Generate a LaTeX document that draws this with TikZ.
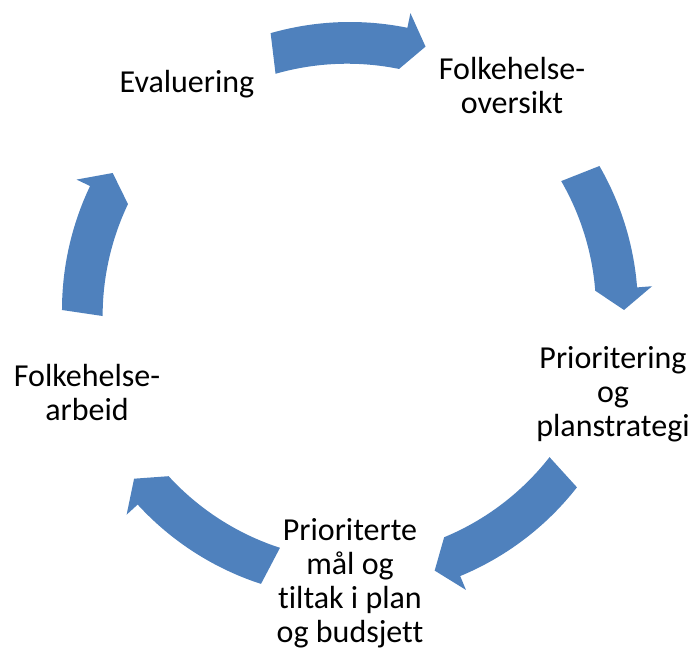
\documentclass[tikz,border=0pt]{standalone}
\usepackage{fontspec}
\setmainfont{Carlito}[Ligatures=NoCommon]
\usepackage{tikz}
\definecolor{arrowblue}{RGB}{79,129,189}
\tikzset{
  every node/.style={
    font=\fontsize{24}{25.5}\selectfont
  },
  cycle text/.style={
    align=center,
    inner sep=0pt
  },
  cycle arrow/.style={
    fill=arrowblue,
    draw=none
  }
}

\begin{document}
\begin{tikzpicture}[x=0.75pt,y=0.75pt]
\useasboundingbox (-350,-343) rectangle (341,310);

% block arrows round the cycle: tail angle / tip angle
\foreach \a/\b in {106/74, 30/0, -38/-72, -108/-142, 180/150} {
  \pgfmathsetmacro{\h}{\b+4.5}
  \fill [cycle arrow] (\a:288) arc [start angle=\a, end angle=\h, radius=288]
    -- (\h:303) -- (\b:274) -- (\h:246)
    arc [start angle=\h, end angle=\a, radius=260] -- cycle;
}

\node [cycle text] (evaluering) at (-163,226) {Evaluering};
\node [cycle text] (oversikt) at (162,224) {Folkehelse-\\oversikt};
\node [cycle text] (planstrategi) at (263,-84) {Prioritering\\og\\planstrategi};
\node [cycle text] (budsjett) at (0,-273) {Prioriterte\\mål og\\tiltak i plan\\og budsjett};
\node [cycle text] (arbeid) at (-263,-83) {Folkehelse-\\arbeid};

\end{tikzpicture}
\end{document}
